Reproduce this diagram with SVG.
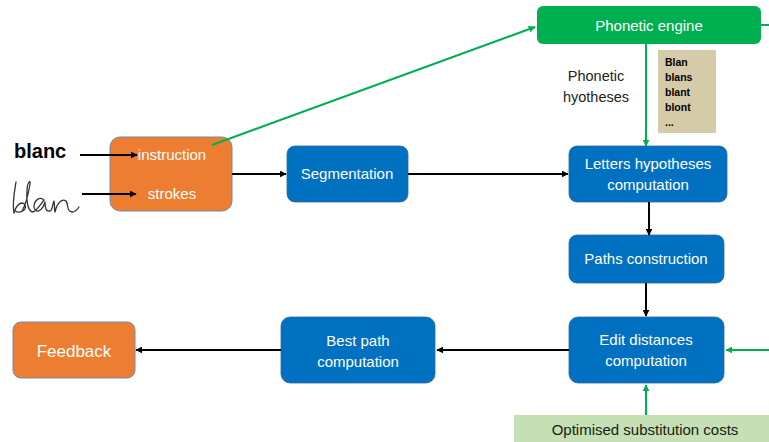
<svg xmlns="http://www.w3.org/2000/svg" width="769" height="442" viewBox="0 0 769 442">
<defs>
<style>
.blue{fill:#0070C0;stroke:#2F6A9E;stroke-width:0.8}
.orange{fill:#ED7D31;stroke:#6F8CAE;stroke-width:1}
.lbl{font-family:"Liberation Sans",Arial,sans-serif;font-size:15px;fill:#fff;text-anchor:middle}
.blk{stroke:#000;stroke-width:2;fill:none}
.grn{stroke:#00B050;stroke-width:2;fill:none}
.lst{font-family:"Liberation Sans",Arial,sans-serif;font-size:10.5px;font-weight:bold;fill:#000}
</style>
<marker id="ab" viewBox="0 0 10 10" refX="9" refY="5" markerWidth="7" markerHeight="7" orient="auto" markerUnits="userSpaceOnUse"><path d="M0,0L10,5L0,10z" fill="#000"/></marker>
<marker id="ag" viewBox="0 0 10 10" refX="9" refY="5" markerWidth="7" markerHeight="7" orient="auto" markerUnits="userSpaceOnUse"><path d="M0,0L10,5L0,10z" fill="#00B050"/></marker>
</defs>
<rect width="769" height="442" fill="#fff"/>

<g id="phonetic-engine">
<rect x="537" y="6" width="224" height="38" rx="6" fill="#00B050"/>
<text class="lbl" x="649" y="31">Phonetic engine</text>
</g>

<g id="phonetic-label">
<text x="596" y="81" font-family="Liberation Sans,Arial,sans-serif" font-size="14.5" fill="#222" text-anchor="middle">Phonetic</text>
<text x="596" y="102" font-family="Liberation Sans,Arial,sans-serif" font-size="14.5" fill="#222" text-anchor="middle">hyotheses</text>
</g>

<g id="hypotheses-list">
<rect x="658" y="50" width="58" height="83" fill="#D6CBA8"/>
<text class="lst" x="665" y="66">Blan</text>
<text class="lst" x="665" y="81">blans</text>
<text class="lst" x="665" y="96">blant</text>
<text class="lst" x="665" y="111">blont</text>
<text class="lst" x="665" y="126">...</text>
</g>

<g id="input-word">
<text x="14" y="158" font-family="Liberation Sans,Arial,sans-serif" font-size="20" font-weight="bold" fill="#000">blanc</text>
</g>

<g id="input-strokes">
<path d="M16,182 C14,194 12,204 14,213 C16,205 22,200 25,205 C27,210 20,214 15,211 M22,211 C26,204 28,196 30,184 C31,179 27,182 27,191 C26,201 28,210 32,212 C36,212 40,205 44,200 C40,196 34,200 34,207 C35,214 42,212 45,202 C45,208 46,212 50,211 C53,210 52,204 54,201 C55,206 54,210 55,212 C57,203 62,198 66,201 C69,205 66,211 72,212 C75,212 77,210 79,207" fill="none" stroke="#333" stroke-width="1.3" stroke-linecap="round" stroke-linejoin="round"/>
</g>

<g id="input-box">
<rect class="orange" x="110" y="137" width="122" height="74" rx="10"/>
<text class="lbl" x="172" y="160">instruction</text>
<text class="lbl" x="172" y="199">strokes</text>
</g>

<g id="segmentation">
<rect class="blue" x="287" y="146" width="121" height="56" rx="8"/>
<text class="lbl" x="347" y="179">Segmentation</text>
</g>

<g id="letters-hypotheses">
<rect class="blue" x="569" y="146" width="158" height="56" rx="8"/>
<text class="lbl" x="648" y="169">Letters hypotheses</text>
<text class="lbl" x="648" y="190">computation</text>
</g>

<g id="paths-construction">
<rect class="blue" x="569" y="235" width="155" height="48" rx="8"/>
<text class="lbl" x="646" y="264">Paths construction</text>
</g>

<g id="edit-distances">
<rect class="blue" x="569" y="317" width="155" height="66" rx="9"/>
<text class="lbl" x="646" y="345">Edit distances</text>
<text class="lbl" x="646" y="366">computation</text>
</g>

<g id="substitution-costs">
<rect x="514" y="415" width="255" height="27" fill="#C5E0B4"/>
<text x="645" y="435" font-family="Liberation Sans,Arial,sans-serif" font-size="15" fill="#1a1a1a" text-anchor="middle">Optimised substitution costs</text>
</g>

<g id="best-path">
<rect class="blue" x="281" y="317" width="154" height="66" rx="9"/>
<text class="lbl" x="358" y="346">Best path</text>
<text class="lbl" x="358" y="367">computation</text>
</g>

<g id="feedback">
<rect class="orange" x="13" y="322" width="122" height="56" rx="8"/>
<text class="lbl" x="74" y="357" style="font-size:17px">Feedback</text>
</g>

<g id="connectors">
<line class="grn" x1="212" y1="145" x2="535" y2="27" marker-end="url(#ag)"/>
<line class="grn" x1="761" y1="25" x2="769" y2="25"/>
<line class="grn" x1="646" y1="44" x2="646" y2="146" marker-end="url(#ag)"/>
<line class="blk" x1="80" y1="155" x2="137" y2="155" marker-end="url(#ab)"/>
<line class="blk" x1="82" y1="194" x2="136" y2="194" marker-end="url(#ab)"/>
<line class="blk" x1="232" y1="174" x2="286" y2="174" marker-end="url(#ab)"/>
<line class="blk" x1="408" y1="174" x2="568" y2="174" marker-end="url(#ab)"/>
<line class="blk" x1="649" y1="202" x2="649" y2="235" marker-end="url(#ab)"/>
<line class="blk" x1="646" y1="283" x2="646" y2="316" marker-end="url(#ab)"/>
<line class="grn" x1="769" y1="350" x2="726" y2="350" marker-end="url(#ag)"/>
<line class="grn" x1="646" y1="415" x2="646" y2="385" marker-end="url(#ag)"/>
<line class="blk" x1="569" y1="350" x2="437" y2="350" marker-end="url(#ab)"/>
<line class="blk" x1="281" y1="350" x2="136" y2="350" marker-end="url(#ab)"/>
</g>
</svg>
